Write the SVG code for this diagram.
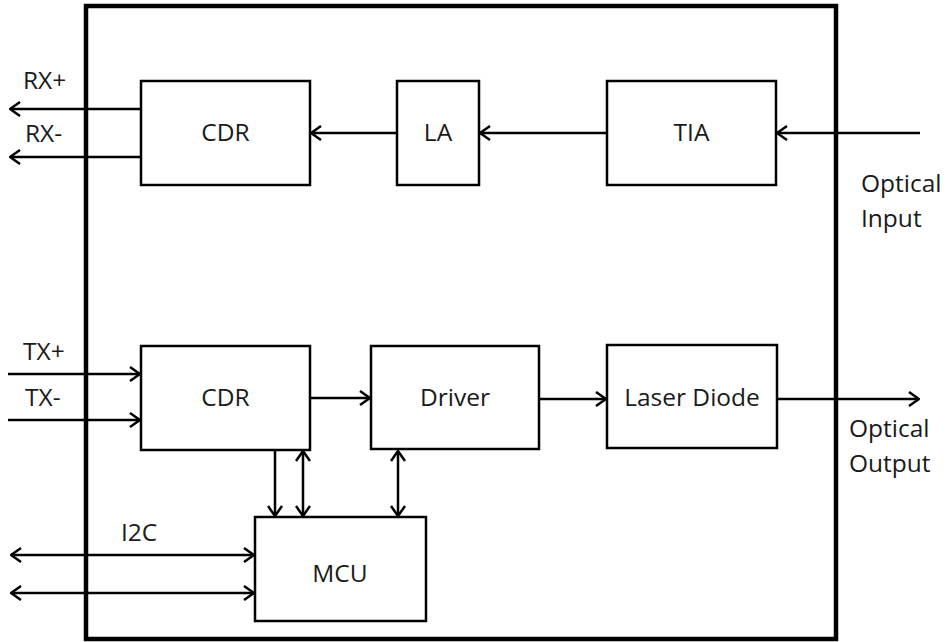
<svg xmlns="http://www.w3.org/2000/svg" width="949" height="642" viewBox="0 0 949 642">
<style>
.box{fill:#fff;stroke:#000;stroke-width:2.5}
.frame{fill:none;stroke:#000;stroke-width:4.5}
.ln{fill:none;stroke:#000;stroke-width:2.5}
.t{font-family:"Open Sans","Liberation Sans",sans-serif;font-size:24.5px;fill:#1a1a1a}
.c{text-anchor:middle}
</style>
<defs>
<marker id="ah" viewBox="0 0 12 16" refX="11" refY="8" markerWidth="12" markerHeight="16" markerUnits="userSpaceOnUse" orient="auto-start-reverse">
<path d="M1,1 L11,8 L1,15" fill="none" stroke="#000" stroke-width="2.5"/>
</marker>
</defs>
<rect width="949" height="642" fill="#fff"/>
<g id="frame"><rect class="frame" x="86" y="6" width="750" height="633"/></g>
<g id="connectors">
<line class="ln" x1="141" y1="109" x2="10" y2="109" marker-end="url(#ah)"/>
<line class="ln" x1="141" y1="157" x2="10" y2="157" marker-end="url(#ah)"/>
<line class="ln" x1="397" y1="133" x2="311" y2="133" marker-end="url(#ah)"/>
<line class="ln" x1="607" y1="133" x2="480" y2="133" marker-end="url(#ah)"/>
<line class="ln" x1="920" y1="133" x2="777" y2="133" marker-end="url(#ah)"/>
<line class="ln" x1="8" y1="374" x2="140" y2="374" marker-end="url(#ah)"/>
<line class="ln" x1="8" y1="420" x2="140" y2="420" marker-end="url(#ah)"/>
<line class="ln" x1="310" y1="398" x2="370" y2="398" marker-end="url(#ah)"/>
<line class="ln" x1="539" y1="399" x2="606" y2="399" marker-end="url(#ah)"/>
<line class="ln" x1="777" y1="399" x2="919" y2="399" marker-end="url(#ah)"/>
<line class="ln" x1="275" y1="450" x2="275" y2="516" marker-end="url(#ah)"/>
<line class="ln" x1="303" y1="451" x2="303" y2="516" marker-start="url(#ah)" marker-end="url(#ah)"/>
<line class="ln" x1="398" y1="451" x2="398" y2="516" marker-start="url(#ah)" marker-end="url(#ah)"/>
<line class="ln" x1="11" y1="555" x2="254" y2="555" marker-start="url(#ah)" marker-end="url(#ah)"/>
<line class="ln" x1="11" y1="593" x2="254" y2="593" marker-start="url(#ah)" marker-end="url(#ah)"/>
</g>
<g id="cdr-rx"><rect class="box" x="141" y="81" width="169" height="104"/><text class="t c" x="225.5" y="141">CDR</text></g>
<g id="la"><rect class="box" x="397" y="81" width="82" height="104"/><text class="t c" x="438" y="141">LA</text></g>
<g id="tia"><rect class="box" x="607" y="81" width="169" height="104"/><text class="t c" x="691.5" y="141">TIA</text></g>
<g id="cdr-tx"><rect class="box" x="141" y="346" width="169" height="104"/><text class="t c" x="225.5" y="406">CDR</text></g>
<g id="driver"><rect class="box" x="371" y="346" width="168" height="103"/><text class="t c" x="455" y="406">Driver</text></g>
<g id="laser"><rect class="box" x="607" y="345" width="170" height="103"/><text class="t c" x="692" y="406">Laser Diode</text></g>
<g id="mcu"><rect class="box" x="255" y="517" width="171" height="104"/><text class="t c" x="340" y="582">MCU</text></g>
<g id="labels">
<text class="t" x="23" y="89">RX+</text>
<text class="t" x="25" y="142">RX-</text>
<text class="t" x="23" y="360">TX+</text>
<text class="t" x="25" y="406">TX-</text>
<text class="t" x="121" y="541">I2C</text>
<text class="t" x="861" y="192">Optical</text>
<text class="t" x="861" y="227">Input</text>
<text class="t" x="849" y="437">Optical</text>
<text class="t" x="849" y="472">Output</text>
</g>
</svg>
